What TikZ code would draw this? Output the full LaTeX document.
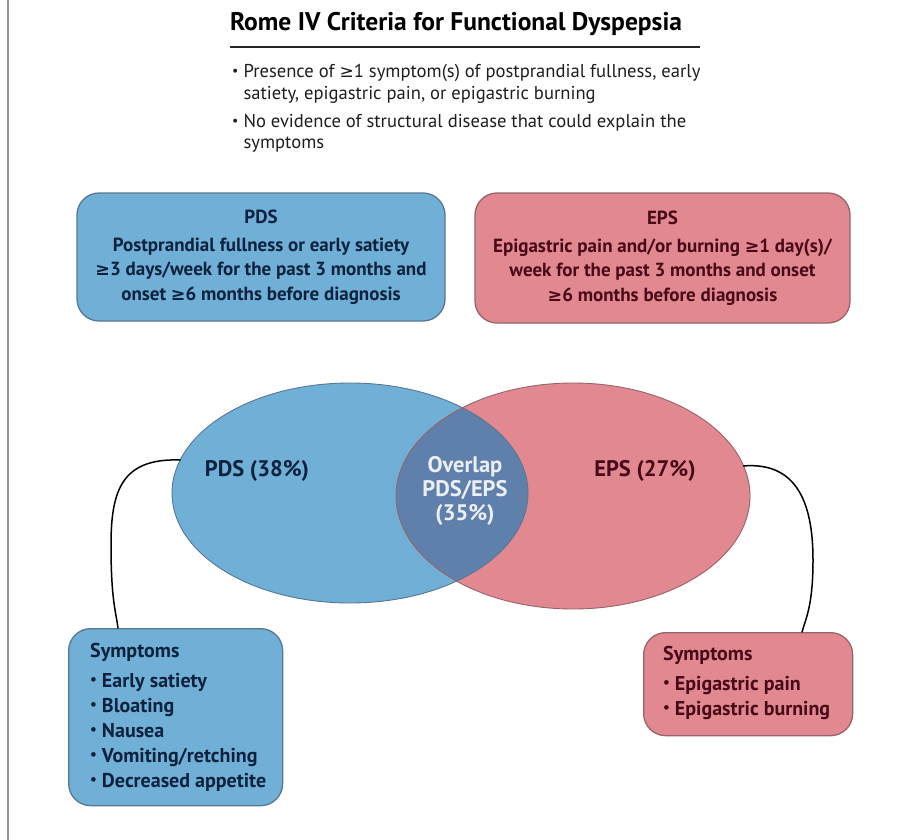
\documentclass[tikz,border=0pt]{standalone}
\usepackage{fontspec}
\setmainfont{PT Sans}
\newfontfamily\symfont[Scale=0.92]{DejaVu Sans}
\usetikzlibrary{shapes.geometric}
\definecolor{pdsfill}{RGB}{112,175,214}
\definecolor{pdsedge}{RGB}{88,120,145}
\definecolor{pdstext}{RGB}{14,34,62}
\definecolor{epsfill}{RGB}{225,136,144}
\definecolor{epsedge}{RGB}{150,100,106}
\definecolor{epstext}{RGB}{72,10,22}
\definecolor{ovfill}{RGB}{96,128,172}
\definecolor{ovtext}{RGB}{236,240,246}
\definecolor{rulegray}{RGB}{150,150,150}
\definecolor{bodytext}{RGB}{30,30,30}
\tikzset{
  boxbase/.style={line width=1.3pt, rounded corners=22pt, inner sep=0pt, font=\bfseries\fontsize{19}{24.5}\selectfont},
  pdsbox/.style={boxbase, draw=pdsedge, fill=pdsfill, text=pdstext},
  epsbox/.style={boxbase, draw=epsedge, fill=epsfill, text=epstext},
  ellnode/.style={ellipse, inner sep=0pt, outer sep=0pt},
  ellborder/.style={line width=0.9pt},
  conn/.style={line width=1.5pt, black, line cap=round},
  elltext/.style={font=\bfseries\fontsize{22.5}{24}\selectfont, align=center},
  symtext/.style={anchor=base west, inner sep=0pt, font=\bfseries\fontsize{20}{25}\selectfont}
}
\newcommand{\bl}{\raisebox{0.12em}{\scalebox{0.75}{•}}}
\newcommand{\gesym}{{\symfont ≥}}
\begin{document}
\begin{tikzpicture}[x=1pt,y=-1pt]
\useasboundingbox (0,0) rectangle (899,840);
\fill[white] (0,0) rectangle (899,840);
\draw[rulegray, line width=2.5pt] (8,0) -- (8,840);

% title
\node[anchor=base, inner sep=0pt, font=\bfseries\fontsize{25.5}{28}\selectfont] (title) at (456,31) {Rome IV Criteria for Functional Dyspepsia};
\coordinate (ulA) at (230,47);
\coordinate (ulB) at (700,47);
\draw[line width=1.6pt, black!85] (ulA) -- (ulB);

% criteria
\node[anchor=base west, inner sep=0pt, text=bodytext, font=\fontsize{18.6}{21}\selectfont] (crit) at (232,78)
{\begin{tabular}[t]{@{}l@{\hspace{5pt}}l@{}}
\bl & Presence of \gesym1 symptom(s) of postprandial fullness, early\\
    & satiety, epigastric pain, or epigastric burning\\[8pt]
\bl & No evidence of structural disease that could explain the\\
    & symptoms
\end{tabular}};

% top boxes
\node[pdsbox, minimum width=368pt, minimum height=128pt, align=center] (pds) at (261,257)
{PDS\\[3pt]Postprandial fullness or early satiety\\\gesym3 days/week for the past 3 months and\\onset \gesym6 months before diagnosis};
\node[epsbox, minimum width=375pt, minimum height=130pt, align=center] (eps) at (662.5,258)
{EPS\\[3pt]Epigastric pain and/or burning \gesym1 day(s)/\\week for the past 3 months and onset\\\gesym6 months before diagnosis};

% venn
\fill[pdsfill] (350,493) ellipse [x radius=178pt, y radius=110pt];
\fill[epsfill] (573,496) ellipse [x radius=177pt, y radius=113pt];
\begin{scope}
  \clip (350,493) ellipse [x radius=178pt, y radius=110pt];
  \fill[ovfill] (573,496) ellipse [x radius=177pt, y radius=113pt];
\end{scope}
\draw[ellborder, pdsedge] (350,493) ellipse [x radius=178pt, y radius=110pt];
\draw[ellborder, epsedge] (573,496) ellipse [x radius=177pt, y radius=113pt];
\node[ellnode, minimum width=356pt, minimum height=220pt] (lell) at (350,493) {};
\node[ellnode, minimum width=354pt, minimum height=226pt] (rell) at (573,496) {};

\node[elltext, text=pdstext, anchor=base] (pdsp) at (257,476) {PDS (38\%)};
\node[elltext, text=epstext, anchor=base] (epsp) at (645,476) {EPS (27\%)};
\node[elltext, text=ovtext, anchor=base] (ovl) at (465,520) {Overlap\\PDS/EPS\\(35\%)};

% symptom boxes
\node[pdsbox, minimum width=214pt, minimum height=177pt, anchor=north west] (lsym) at (68,628) {};
\node[symtext, text=pdstext] (lsymt) at (90,657)
{\begin{tabular}[t]{@{}l@{}}
Symptoms\\[5pt]
\bl\hspace{5pt}Early satiety\\
\bl\hspace{5pt}Bloating\\
\bl\hspace{5pt}Nausea\\
\bl\hspace{5pt}Vomiting/retching\\
\bl\hspace{5pt}Decreased appetite
\end{tabular}};
\node[epsbox, minimum width=209pt, minimum height=103pt, anchor=north west] (rsym) at (643,632) {};
\node[symtext, text=epstext] (rsymt) at (663,660)
{\begin{tabular}[t]{@{}l@{}}
Symptoms\\[5pt]
\bl\hspace{5pt}Epigastric pain\\
\bl\hspace{5pt}Epigastric burning
\end{tabular}};

% connectors
\draw[conn] (lell.169) .. controls (122,458) and (111,490) .. (111,545)
  .. controls (111,600) and (116,612) .. ([xshift=50pt]lsym.north west);
\draw[conn] (rell.10) .. controls (795,462) and (813,500) .. (813,560)
  .. controls (813,605) and (806,618) .. ([xshift=159pt]rsym.north west);
\end{tikzpicture}
\end{document}
